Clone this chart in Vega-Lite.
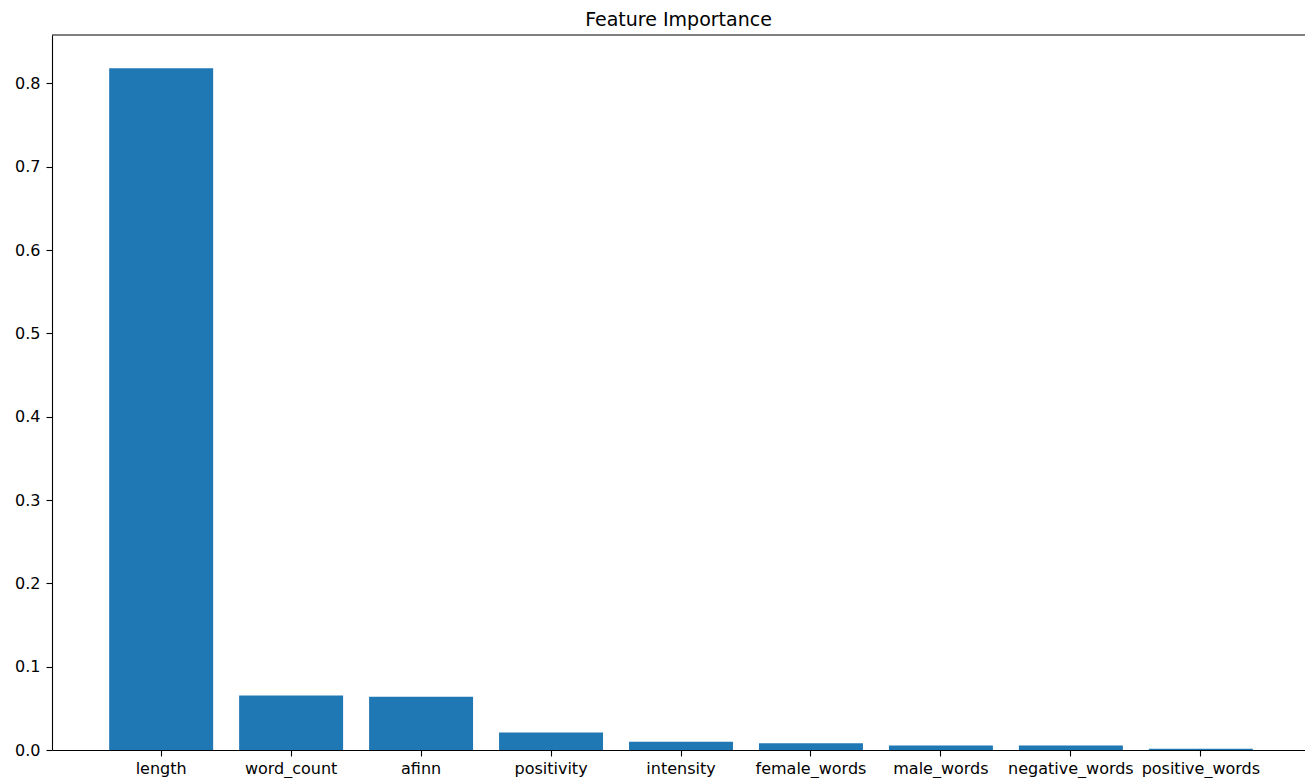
{
  "$schema": "https://vega.github.io/schema/vega-lite/v6.json",
  "autosize": {"type": "none"},
  "padding": {"left": 52, "top": 35, "right": 0, "bottom": 28},
  "width": 1253,
  "height": 715,
  "background": "white",
  "config": {
    "view": {"stroke": null},
    "font": "DejaVu Sans",
    "axis": {
      "labelFont": "DejaVu Sans",
      "labelFontSize": 16,
      "labelColor": "black",
      "domainColor": "black",
      "domainWidth": 1.1,
      "tickColor": "black",
      "tickWidth": 1.1,
      "tickSize": 6,
      "grid": false,
      "title": null
    }
  },
  "title": {
    "text": "Feature Importance",
    "font": "DejaVu Sans",
    "fontSize": 19,
    "fontWeight": "normal",
    "color": "black",
    "anchor": "middle",
    "offset": 4
  },
  "data": {
    "values": [
      {"feature": "length", "importance": 0.818},
      {"feature": "word_count", "importance": 0.0655},
      {"feature": "afinn", "importance": 0.064},
      {"feature": "positivity", "importance": 0.021},
      {"feature": "intensity", "importance": 0.0098},
      {"feature": "female_words", "importance": 0.0082},
      {"feature": "male_words", "importance": 0.0054},
      {"feature": "negative_words", "importance": 0.0054},
      {"feature": "positive_words", "importance": 0.0015}
    ]
  },
  "layer": [
    {
      "mark": {"type": "bar", "color": "#1f77b4"},
      "encoding": {
        "x": {
          "field": "feature",
          "type": "nominal",
          "sort": null,
          "scale": {"range": [0, 1258], "paddingInner": 0.2, "paddingOuter": 0.44},
          "axis": {"labelAngle": 0, "labelPadding": 4}
        },
        "y": {
          "field": "importance",
          "type": "quantitative",
          "scale": {"domain": [0, 0.858], "nice": false, "zero": true},
          "axis": {"values": [0, 0.1, 0.2, 0.3, 0.4, 0.5, 0.6, 0.7, 0.8], "format": ".1f", "labelPadding": 6}
        }
      }
    },
    {
      "data": {"values": [{"top": 0.858}]},
      "mark": {"type": "rule", "color": "black", "strokeWidth": 1.1},
      "encoding": {
        "y": {"field": "top", "type": "quantitative"}
      }
    }
  ]
}
